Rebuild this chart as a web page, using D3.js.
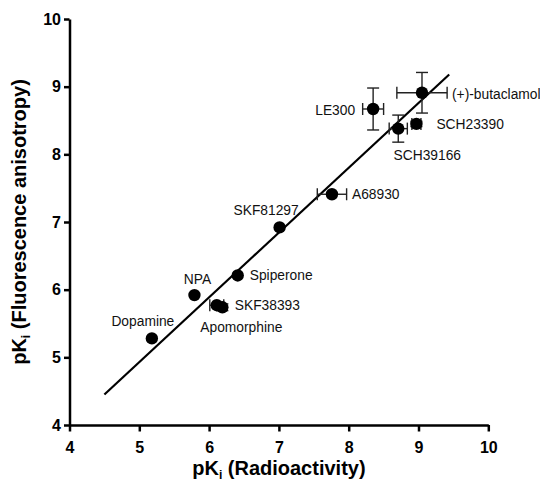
<!DOCTYPE html>
<html>
<head>
<meta charset="utf-8">
<script src="https://cdn.jsdelivr.net/npm/d3@7"></script>
<style>
  body { margin: 0; background: #fff; }
  text { font-family: "Liberation Sans", Arial, sans-serif; }
</style>
</head>
<body>
<div id="chart"></div>
<script>
// Compounds and their pKi values (radioactivity vs fluorescence anisotropy)
const compounds = ["Dopamine", "NPA", "SKF38393", "Apomorphine", "Spiperone", "SKF81297",
                   "A68930", "LE300", "SCH39166", "SCH23390", "(+)-butaclamol"];
const pkiRadio = [5.18, 5.79, 6.11, 6.19, 6.41, 7.01, 7.76, 8.35, 8.71, 8.97, 9.05];
const pkiFluo  = [5.28, 5.92, 5.77, 5.74, 6.21, 6.92, 7.41, 8.67, 8.38, 8.45, 8.91];
const errRadio = [0, 0, 0.10, 0, 0, 0, 0.21, 0.15, 0.13, 0.065, 0.36];
const errFluo  = [0, 0, 0, 0.05, 0, 0, 0, 0.31, 0.20, 0.04, 0.30];

// Regression line end points
const fitX = [4.5, 9.44];
const fitY = [4.45, 9.18];

const axisTicks = [4, 5, 6, 7, 8, 9, 10];

// Label placement relative to each point (pixels)
const labelPos = {
    "Dopamine": [-9, -17, "middle"],
    "NPA": [3, -16, "middle"],
    "SKF38393": [18, 0, "start"],
    "Apomorphine": [19, 20, "middle"],
    "Spiperone": [12, 0, "start"],
    "SKF81297": [-13.5, -17, "middle"],
    "A68930": [20, 0, "start"],
    "LE300": [-18, 1, "end"],
    "SCH39166": [29, 27, "middle"],
    "SCH23390": [20, 0, "start"],
    "(+)-butaclamol": [30, 1, "start"]
};

const data = compounds.map((name, i) => ({
    name, x: pkiRadio[i], y: pkiFluo[i], ex: errRadio[i], ey: errFluo[i]
}));

const svg = d3.select("#chart").append("svg")
    .attr("width", 540)
    .attr("height", 482);

const x = d3.scaleLinear().domain([4, 10]).range([69.5, 488.3]);
const y = d3.scaleLinear().domain([4, 10]).range([425, 19]);

// Axes
const xAxis = svg.append("g")
    .attr("transform", `translate(0,${y(4)})`)
    .call(d3.axisBottom(x).tickValues(axisTicks).tickFormat(d3.format("d"))
        .tickSize(6.5).tickSizeOuter(0).tickPadding(10));
const yAxis = svg.append("g")
    .attr("transform", `translate(${x(4)},0)`)
    .call(d3.axisLeft(y).tickValues(axisTicks).tickFormat(d3.format("d"))
        .tickSize(5.5).tickSizeOuter(0).tickPadding(3));

[xAxis, yAxis].forEach(g => {
    g.select(".domain").attr("stroke", "#000").attr("stroke-width", 2.5);
    g.selectAll(".tick line").attr("stroke", "#000").attr("stroke-width", 2.5);
    g.selectAll(".tick text")
        .attr("fill", "#000")
        .style("font-family", '"Liberation Sans", Arial, sans-serif')
        .style("font-size", "16px")
        .style("font-weight", "bold");
});

// Regression line
svg.append("line")
    .attr("x1", x(fitX[0])).attr("y1", y(fitY[0]))
    .attr("x2", x(fitX[1])).attr("y2", y(fitY[1]))
    .attr("stroke", "#000")
    .attr("stroke-width", 2.2);

// Error bars
const cap = 6;
const errG = svg.append("g")
    .attr("stroke", "#222")
    .attr("stroke-width", 1.4)
    .attr("fill", "none");

data.filter(d => d.ex > 0).forEach(d => {
    const cy = y(d.y);
    errG.append("line").attr("x1", x(d.x - d.ex)).attr("x2", x(d.x + d.ex)).attr("y1", cy).attr("y2", cy);
    [d.x - d.ex, d.x + d.ex].forEach(v => {
        errG.append("line").attr("x1", x(v)).attr("x2", x(v)).attr("y1", cy - cap).attr("y2", cy + cap);
    });
});
data.filter(d => d.ey > 0).forEach(d => {
    const cx = x(d.x);
    errG.append("line").attr("x1", cx).attr("x2", cx).attr("y1", y(d.y - d.ey)).attr("y2", y(d.y + d.ey));
    [d.y - d.ey, d.y + d.ey].forEach(v => {
        errG.append("line").attr("x1", cx - cap).attr("x2", cx + cap).attr("y1", y(v)).attr("y2", y(v));
    });
});

// Points
svg.selectAll("circle.pt")
    .data(data)
    .enter().append("circle")
    .attr("class", "pt")
    .attr("cx", d => x(d.x))
    .attr("cy", d => y(d.y))
    .attr("r", 6.2)
    .attr("fill", "#000");

// Point labels
svg.selectAll("text.lbl")
    .data(data)
    .enter().append("text")
    .attr("class", "lbl")
    .attr("x", d => x(d.x) + labelPos[d.name][0])
    .attr("y", d => y(d.y) + labelPos[d.name][1])
    .attr("dy", "0.35em")
    .attr("text-anchor", d => labelPos[d.name][2])
    .style("font-size", "13.8px")
    .attr("fill", "#111")
    .text(d => d.name);

// Axis titles
const xTitle = svg.append("text")
    .attr("x", (x(4) + x(10)) / 2)
    .attr("y", 475)
    .attr("text-anchor", "middle")
    .style("font-size", "20px")
    .style("font-weight", "bold");
xTitle.append("tspan").text("pK");
xTitle.append("tspan").attr("dy", 4).style("font-size", "12px").text("i");
xTitle.append("tspan").attr("dy", -4).text(" (Radioactivity)");

const yTitle = svg.append("text")
    .attr("transform", `translate(26,${(y(4) + y(10)) / 2}) rotate(-90)`)
    .attr("text-anchor", "middle")
    .style("font-size", "20px")
    .style("font-weight", "bold");
yTitle.append("tspan").text("pK");
yTitle.append("tspan").attr("dy", 4).style("font-size", "12px").text("i");
yTitle.append("tspan").attr("dy", -4).text(" (Fluorescence anisotropy)");
</script>
</body>
</html>
